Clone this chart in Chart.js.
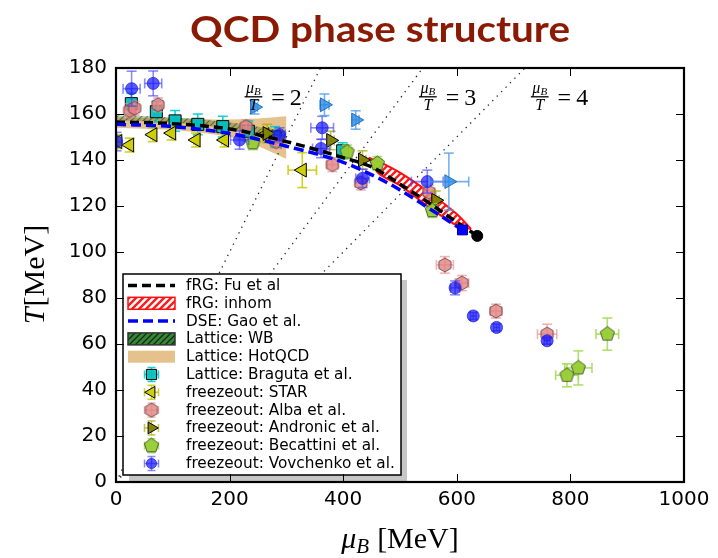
<!DOCTYPE html>
<html><head><meta charset="utf-8">
<script src="https://cdn.jsdelivr.net/npm/chart.js@4/dist/chart.umd.min.js"></script>
<style>html,body{margin:0;padding:0;background:#fff}#wrap{width:718px;height:558px}</style>
</head><body><div id="wrap"><canvas id="c" width="718" height="558"></canvas></div>
<script>
// ---------------- data ----------------
const xTickVals = [0, 200, 400, 600, 800, 1000];
const yTickVals = [0, 20, 40, 60, 80, 100, 120, 140, 160, 180];

const fuMu = [0, 100, 200, 250, 300, 350, 400, 450, 500, 550, 600, 636];
const fuT  = [156.5, 155.8, 153.5, 151, 148, 144.7, 141, 137, 129.5, 121.5, 113, 107];
const gaoMu = [0, 100, 200, 300, 400, 463, 500, 551, 610];
const gaoT  = [155.5, 154.5, 151.5, 146, 139, 132, 127, 119, 109.6];
const inhomMu = [445, 463, 500, 551, 600, 625];
const inhomUpperT = [141, 139.3, 134.5, 126, 116.5, 110];
const inhomLowerT = [141, 134, 129, 119.5, 111.5, 110];
const hotMu = [0, 100, 200, 250, 300];
const hotUpperT = [158.5, 158.2, 157.6, 158, 159];
const hotLowerT = [154, 153, 150, 146, 140.5];
const wbMu = [0, 100, 200, 300];
const wbUpperT = [159.5, 158.6, 156.3, 152.5];
const wbLowerT = [157.3, 156.3, 153.6, 149];

const ratioLabels = ['2', '3', '4'];
const ratioLineMu = [[0, 360], [0, 540], [0, 720]];
const ratioLineT  = [[0, 180], [0, 180], [0, 180]];
const ratioLabelMu = [242, 549, 746];
const ratioLabelT = 167.5;

const bragutaMu = [27, 71, 104, 144, 188, 233, 280, 399];
const bragutaT  = [164.5, 161, 157, 155.5, 154.5, 152.5, 150, 144];
const bragutaErrMu = [4, 4, 4, 4, 4, 4, 4, 4];
const bragutaErrT  = [4.5, 4.5, 4.5, 4.5, 4.5, 4.5, 4.5, 3.5];

const starMu = [3, 24, 65, 98, 141, 191, 262, 328];
const starT  = [148, 146.5, 151, 151.7, 148.7, 148.7, 151, 135.6];
const starErrMu = [2, 2, 3, 3, 4, 5, 6, 25];
const starErrT  = [3, 3, 3, 3, 3, 3, 3, 7.6];

const albaMu = [24, 33, 74, 229, 282, 381, 431, 551, 579, 609, 669, 759];
const albaT  = [161.5, 162.5, 164, 154.5, 148, 138, 130, 126, 94.4, 86.5, 74.3, 64.3];
const albaErrMu = [8, 8, 8, 10, 10, 10, 10, 10, 15, 12, 10, 17];
const albaErrT  = [3, 3, 3, 3, 3, 3, 3, 3, 3.6, 3.3, 3, 4.3];

const andronicMu = [266, 378, 434, 563];
const andronicT  = [151.5, 148.5, 140, 122.5];
const andronicErrMu = [6, 6, 6, 6];
const andronicErrT  = [4, 4, 4, 4];

const becattiniMu = [241, 407, 460, 557, 794, 814, 865];
const becattiniT  = [147.5, 143.5, 138.5, 118, 46.4, 49.6, 64.3];
const becattiniErrMu = [8, 8, 8, 8, 20, 24, 20];
const becattiniErrT  = [3, 3, 3, 3, 5, 7.4, 7];

const vovMu = [1, 27.5, 65.5, 217.5, 288, 361, 363, 434, 548, 597, 629, 670, 759];
const vovT  = [148, 171, 173.3, 148.7, 151, 145, 154, 132, 130.6, 84.4, 72.2, 67.2, 61.4];
const vovErrMu = [10, 15, 15, 16, 10, 15, 20, 12, 28, 8, 5, 5, 5];
const vovErrT  = [4, 7.6, 5.4, 4, 3, 4, 5, 4, 5, 3, 1.5, 1.5, 1.5];

const extraMu = [244, 367, 422, 586];
const extraT  = [163, 164, 157.4, 130.6];
const extraErrMu = [5, 8, 6, 35];
const extraErrT  = [3, 4.7, 4, 12.4];

const cepDseMu = [610], cepDseT = [109.6];
const cepFrgMu = [636], cepFrgT = [107];

// ---------------- helpers ----------------
const canvas = document.getElementById('c');
const g0 = canvas.getContext('2d');
const xy = (xs, ys) => xs.map((x, i) => ({x: x, y: ys[i]}));

function hatchPattern(bg, fg, lw, size) {
  const c = document.createElement('canvas'); c.width = c.height = size;
  const g = c.getContext('2d');
  if (bg) { g.fillStyle = bg; g.fillRect(0, 0, size, size); }
  g.strokeStyle = fg; g.lineWidth = lw; g.beginPath();
  g.moveTo(-1, size + 1); g.lineTo(size + 1, -1);
  g.moveTo(-size / 2 - 1, size / 2 + 1); g.lineTo(size / 2 + 1, -size / 2 - 1);
  g.moveTo(size / 2 - 1, size * 1.5 + 1); g.lineTo(size * 1.5 + 1, size / 2 - 1);
  g.stroke();
  return g0.createPattern(c, 'repeat');
}
const redHatch = hatchPattern('#ffffff', '#ff1a1a', 2.4, 7);
const wbHatch = hatchPattern('rgba(70,110,40,0.35)', 'rgba(30,60,10,0.55)', 1.2, 6);
const wbLegendHatch = hatchPattern('rgba(50,125,50,0.95)', 'rgba(0,40,0,0.9)', 1.3, 6);

function polyImg(n, r, fill, stroke, lw) {
  const s = Math.ceil(2 * r + 4);
  const c = document.createElement('canvas'); c.width = c.height = s;
  const g = c.getContext('2d'); g.beginPath();
  for (let k = 0; k < n; k++) {
    const a = k * 2 * Math.PI / n;
    const px = s / 2 + r * Math.sin(a), py = s / 2 - r * Math.cos(a);
    if (k) g.lineTo(px, py); else g.moveTo(px, py);
  }
  g.closePath(); g.fillStyle = fill; g.fill();
  g.lineWidth = lw; g.strokeStyle = stroke; g.stroke();
  return c;
}
const hexAlba = polyImg(6, 7, 'rgba(226,130,130,0.8)', 'rgba(100,60,60,0.85)', 1);
const pentBec = polyImg(5, 7.5, 'rgba(150,205,50,0.95)', 'rgba(60,70,40,0.85)', 1);

function marker(label, mu, t, emu, et, errColor, style, radius, fill, stroke, rot) {
  return {
    label: label, data: xy(mu, t), errX: emu, errY: et, errColor: errColor,
    showLine: false, pointStyle: style, pointRadius: radius, pointHoverRadius: radius,
    pointBackgroundColor: fill, pointBorderColor: stroke, pointBorderWidth: 1,
    backgroundColor: fill, borderColor: stroke, pointRotation: rot || 0, clip: 0
  };
}
function band(label, mu, t, fillTo, bg, bc, bw) {
  return {
    type: 'line', label: label, data: xy(mu, t), fill: fillTo, backgroundColor: bg,
    borderColor: bc || 'rgba(0,0,0,0)', borderWidth: bw || 0, pointRadius: 0,
    tension: 0.3, clip: 0
  };
}

const datasets = [
  band('Lattice: HotQCD', hotMu, hotUpperT, '+1', 'rgba(226,186,128,0.9)'),
  band('', hotMu, hotLowerT, false, 'rgba(0,0,0,0)'),
  band('Lattice: WB', wbMu, wbUpperT, '+1', wbHatch),
  band('', wbMu, wbLowerT, false, 'rgba(0,0,0,0)'),
];
ratioLabels.forEach((r, i) => {
  datasets.push({type: 'line', label: 'mu/T=' + r, data: xy(ratioLineMu[i], ratioLineT[i]),
    borderColor: '#222', borderWidth: 1.3, borderDash: [1.3, 5], pointRadius: 0, fill: false, clip: 0});
});
datasets.push(band('fRG: inhom', inhomMu, inhomUpperT, '+1', redHatch, '#ff1010', 2));
datasets.push(band('', inhomMu, inhomLowerT, false, 'rgba(0,0,0,0)', '#ff1010', 2));
datasets.push(marker('Lattice: Braguta et al.', bragutaMu, bragutaT, bragutaErrMu, bragutaErrT, 'rgba(0,205,205,0.9)', 'rect', 8.5, 'rgba(0,190,190,0.92)', '#000'));
datasets.push(marker('freezeout: STAR', starMu, starT, starErrMu, starErrT, 'rgba(200,200,0,0.85)', 'triangle', 8, 'rgba(205,205,0,0.95)', '#000', 270));
datasets.push(marker('freezeout: Alba et al.', albaMu, albaT, albaErrMu, albaErrT, 'rgba(235,150,150,0.7)', hexAlba, 7, 'rgba(226,130,130,0.8)', '#644'));
datasets.push(marker('freezeout: Andronic et al.', andronicMu, andronicT, andronicErrMu, andronicErrT, 'rgba(170,170,0,0.7)', 'triangle', 8, 'rgba(128,128,0,0.95)', '#000', 90));
datasets.push(marker('freezeout: Becattini et al.', becattiniMu, becattiniT, becattiniErrMu, becattiniErrT, 'rgba(160,220,80,0.85)', pentBec, 7, 'rgba(150,205,50,0.95)', '#444'));
datasets.push(marker('freezeout: Vovchenko et al.', vovMu, vovT, vovErrMu, vovErrT, 'rgba(60,60,255,0.6)', 'circle', 6, 'rgba(20,20,255,0.7)', 'rgba(40,40,200,0.8)'));
datasets.push(marker('', extraMu, extraT, extraErrMu, extraErrT, 'rgba(80,160,230,0.8)', 'triangle', 8, 'rgba(40,140,230,0.8)', 'rgba(30,100,180,0.9)', 90));
datasets.push({type: 'line', label: 'fRG: Fu et al', data: xy(fuMu, fuT), borderColor: '#000', borderWidth: 3.5,
  borderDash: [9, 5], pointRadius: 0, fill: false, cubicInterpolationMode: 'monotone', clip: 0});
datasets.push({type: 'line', label: 'DSE: Gao et al.', data: xy(gaoMu, gaoT), borderColor: '#0000ff', borderWidth: 3.5,
  borderDash: [10, 5], pointRadius: 0, fill: false, cubicInterpolationMode: 'monotone', clip: 0});
datasets.push(marker('', cepDseMu, cepDseT, null, null, null, 'rect', 7, '#0000ff', '#0000aa'));
datasets.push(marker('', cepFrgMu, cepFrgT, null, null, null, 'circle', 5.5, '#000', '#000'));
datasets.forEach((d, i) => { d.order = 100 - i; });

const byLabel = l => datasets.find(d => d.label === l);
const legendEntries = [
  {label: 'fRG: Fu et al', kind: 'line'},
  {label: 'fRG: inhom', kind: 'patch', edge: '#ff1010'},
  {label: 'DSE: Gao et al.', kind: 'line'},
  {label: 'Lattice: WB', kind: 'patch', edge: '#333', fillOverride: wbLegendHatch},
  {label: 'Lattice: HotQCD', kind: 'patch', edge: null},
  {label: 'Lattice: Braguta et al.', kind: 'marker'},
  {label: 'freezeout: STAR', kind: 'marker'},
  {label: 'freezeout: Alba et al.', kind: 'marker'},
  {label: 'freezeout: Andronic et al.', kind: 'marker'},
  {label: 'freezeout: Becattini et al.', kind: 'marker'},
  {label: 'freezeout: Vovchenko et al.', kind: 'marker'}
];

function line(ctx, x0, y0, x1, y1) { ctx.beginPath(); ctx.moveTo(x0, y0); ctx.lineTo(x1, y1); ctx.stroke(); }

function drawErr(ctx, px, py, x0, x1, y0, y1, cap) {
  if (x0 !== x1) { line(ctx, x0, py, x1, py); line(ctx, x0, py - cap, x0, py + cap); line(ctx, x1, py - cap, x1, py + cap); }
  if (y0 !== y1) { line(ctx, px, y0, px, y1); line(ctx, px - cap, y0, px + cap, y0); line(ctx, px - cap, y1, px + cap, y1); }
}

const errorBars = {
  id: 'errorBars',
  beforeDatasetDraw(chart, args) {
    const ds = chart.data.datasets[args.index];
    if (!ds.errX && !ds.errY) return;
    const {ctx, chartArea: a, scales: {x, y}} = chart;
    ctx.save();
    ctx.beginPath(); ctx.rect(a.left, a.top, a.right - a.left, a.bottom - a.top); ctx.clip();
    ctx.strokeStyle = ds.errColor; ctx.lineWidth = 1.6;
    ds.data.forEach((p, i) => {
      const px = x.getPixelForValue(p.x), py = y.getPixelForValue(p.y);
      const ex = ds.errX ? ds.errX[i] : 0, ey = ds.errY ? ds.errY[i] : 0;
      drawErr(ctx, px, py, x.getPixelForValue(p.x - ex), x.getPixelForValue(p.x + ex),
        y.getPixelForValue(p.y - ey), y.getPixelForValue(p.y + ey), 5);
    });
    ctx.restore();
  }
};

function drawFrac(ctx, cx, by, rhs) {
  ctx.fillStyle = '#000'; ctx.textAlign = 'left'; ctx.textBaseline = 'alphabetic';
  const fBig = 'italic 16px "Liberation Serif"', fSub = 'italic 11px "Liberation Serif"';
  ctx.font = fBig; const wMu = ctx.measureText('μ').width; const wT = ctx.measureText('T').width;
  ctx.font = fSub; const wB = ctx.measureText('B').width;
  const wn = wMu + wB, w = Math.max(wn, wT) + 3;
  const nx = cx - wn / 2;
  ctx.font = fBig; ctx.fillText('μ', nx, by - 4);
  ctx.font = fSub; ctx.fillText('B', nx + wMu, by - 2);
  ctx.fillRect(cx - w / 2, by - 0.6, w, 1.3);
  ctx.font = fBig; ctx.fillText('T', cx - wT / 2, by + 13);
  ctx.font = '24px "Liberation Serif"';
  const x0 = cx + w / 2 + 9; ctx.fillText('=', x0, by + 8);
  const we = ctx.measureText('=').width; ctx.fillText(rhs, x0 + we + 5, by + 8);
}

const decor = {
  id: 'decor',
  afterDatasetsDraw(chart) {
    const {ctx, chartArea: a, scales: {x, y}} = chart;
    ctx.save();
    ratioLabels.forEach((r, i) => drawFrac(ctx, x.getPixelForValue(ratioLabelMu[i]), y.getPixelForValue(ratioLabelT), r));
    ctx.restore();
  },
  afterDraw(chart) {
    const {ctx, chartArea: a, scales: {x, y}} = chart;
    ctx.save();
    // legend
    const L = 123, T = 274, R = 401, B = 475;
    ctx.fillStyle = 'rgba(128,128,128,0.45)'; ctx.fillRect(L + 6, T + 6, R - L, B - T);
    ctx.fillStyle = '#fff'; ctx.fillRect(L, T, R - L, B - T);
    ctx.strokeStyle = '#000'; ctx.lineWidth = 1.5; ctx.strokeRect(L, T, R - L, B - T);
    legendEntries.forEach((e, k) => {
      const ry = 285.5 + k * 17.8, hx0 = 128, hx1 = 175, hc = 151.5;
      const ds = byLabel(e.label);
      if (e.kind === 'line') {
        ctx.save(); ctx.strokeStyle = ds.borderColor; ctx.lineWidth = ds.borderWidth; ctx.setLineDash(ds.borderDash);
        line(ctx, hx0, ry, hx1, ry); ctx.restore();
      } else if (e.kind === 'patch') {
        ctx.fillStyle = e.fillOverride || ds.backgroundColor; ctx.fillRect(hx0, ry - 6, hx1 - hx0, 12);
        if (e.edge) { ctx.strokeStyle = e.edge; ctx.lineWidth = 1.5; ctx.strokeRect(hx0, ry - 6, hx1 - hx0, 12); }
      } else {
        ctx.strokeStyle = ds.errColor; ctx.lineWidth = 1.5;
        drawErr(ctx, hc, ry, hc - 7, hc + 7, ry - 7, ry + 7, 4);
        ctx.fillStyle = ds.pointBackgroundColor; ctx.strokeStyle = ds.pointBorderColor; ctx.lineWidth = 1;
        Chart.helpers.drawPoint(ctx, {pointStyle: ds.pointStyle, radius: ds.pointRadius * 0.85, rotation: ds.pointRotation, borderWidth: 1}, hc, ry);
      }
      ctx.fillStyle = '#000'; ctx.font = '15.3px "DejaVu Sans"'; ctx.textAlign = 'left'; ctx.textBaseline = 'middle';
      ctx.fillText(e.label, 186, ry + 0.5);
    });
    // ticks + frame
    ctx.strokeStyle = '#000'; ctx.lineWidth = 1;
    xTickVals.forEach(v => { const px = Math.round(x.getPixelForValue(v)) + 0.5;
      line(ctx, px, a.bottom, px, a.bottom - 8); line(ctx, px, a.top, px, a.top + 8); });
    yTickVals.forEach(v => { const py = Math.round(y.getPixelForValue(v)) + 0.5;
      line(ctx, a.left, py, a.left + 8, py); line(ctx, a.right, py, a.right - 8, py); });
    ctx.lineWidth = 2.2; ctx.strokeRect(a.left, a.top, a.right - a.left, a.bottom - a.top);
    // axis titles
    ctx.fillStyle = '#000'; ctx.textBaseline = 'alphabetic'; ctx.textAlign = 'left';
    const fI = 'italic 30px "Liberation Serif"', fR = '30px "Liberation Serif"';
    ctx.save(); ctx.translate(36, (a.top + a.bottom) / 2); ctx.rotate(-Math.PI / 2);
    ctx.font = fI; const wT = ctx.measureText('T').width; ctx.font = fR; const wM = ctx.measureText('[MeV]').width;
    const st = -(wT + wM) / 2;
    ctx.font = fI; ctx.fillText('T', st, 8); ctx.font = fR; ctx.fillText('[MeV]', st + wT + 1, 8);
    ctx.restore();
    ctx.font = fI; const wMu = ctx.measureText('μ').width;
    ctx.font = 'italic 21px "Liberation Serif"'; const wB = ctx.measureText('B').width;
    ctx.font = fR; const wMev = ctx.measureText('[MeV]').width;
    const tot = wMu + wB + 8 + wMev, cx = (a.left + a.right) / 2, sx = cx - tot / 2, base = 548;
    ctx.font = fI; ctx.fillText('μ', sx, base);
    ctx.font = 'italic 21px "Liberation Serif"'; ctx.fillText('B', sx + wMu, base + 5);
    ctx.font = fR; ctx.fillText('[MeV]', sx + wMu + wB + 8, base);
    // title
    ctx.font = 'bold 36px "Lato"'; const tw = ctx.measureText('QCD phase structure').width;
    ctx.save(); ctx.translate(380, 42); ctx.scale(380 / tw, 1);
    ctx.fillStyle = '#8b1a04'; ctx.textAlign = 'center'; ctx.fillText('QCD phase structure', 0, 0);
    ctx.restore();
    ctx.restore();
  }
};

new Chart(g0, {
  type: 'scatter',
  data: {datasets: datasets},
  options: {
    responsive: false, animation: false, devicePixelRatio: 1,
    layout: {padding: {top: 68, right: 34, left: 0, bottom: 0}},
    plugins: {legend: {display: false}, tooltip: {enabled: false}, title: {display: false}},
    events: [],
    scales: {
      x: {type: 'linear', min: 0, max: 1000,
        ticks: {stepSize: 200, color: '#000', font: {family: 'DejaVu Sans', size: 20}, padding: 6, maxRotation: 0,
          callback: v => String(v)},
        grid: {display: false, drawTicks: false}, border: {display: false},
        afterFit(s) { s.height = 76; }},
      y: {type: 'linear', min: 0, max: 180,
        ticks: {stepSize: 20, color: '#000', font: {family: 'DejaVu Sans', size: 20}, padding: 9,
          callback: v => String(v)},
        grid: {display: false, drawTicks: false}, border: {display: false},
        afterFit(s) { s.width = 116; }}
    }
  },
  plugins: [errorBars, decor]
});
</script></body></html>
